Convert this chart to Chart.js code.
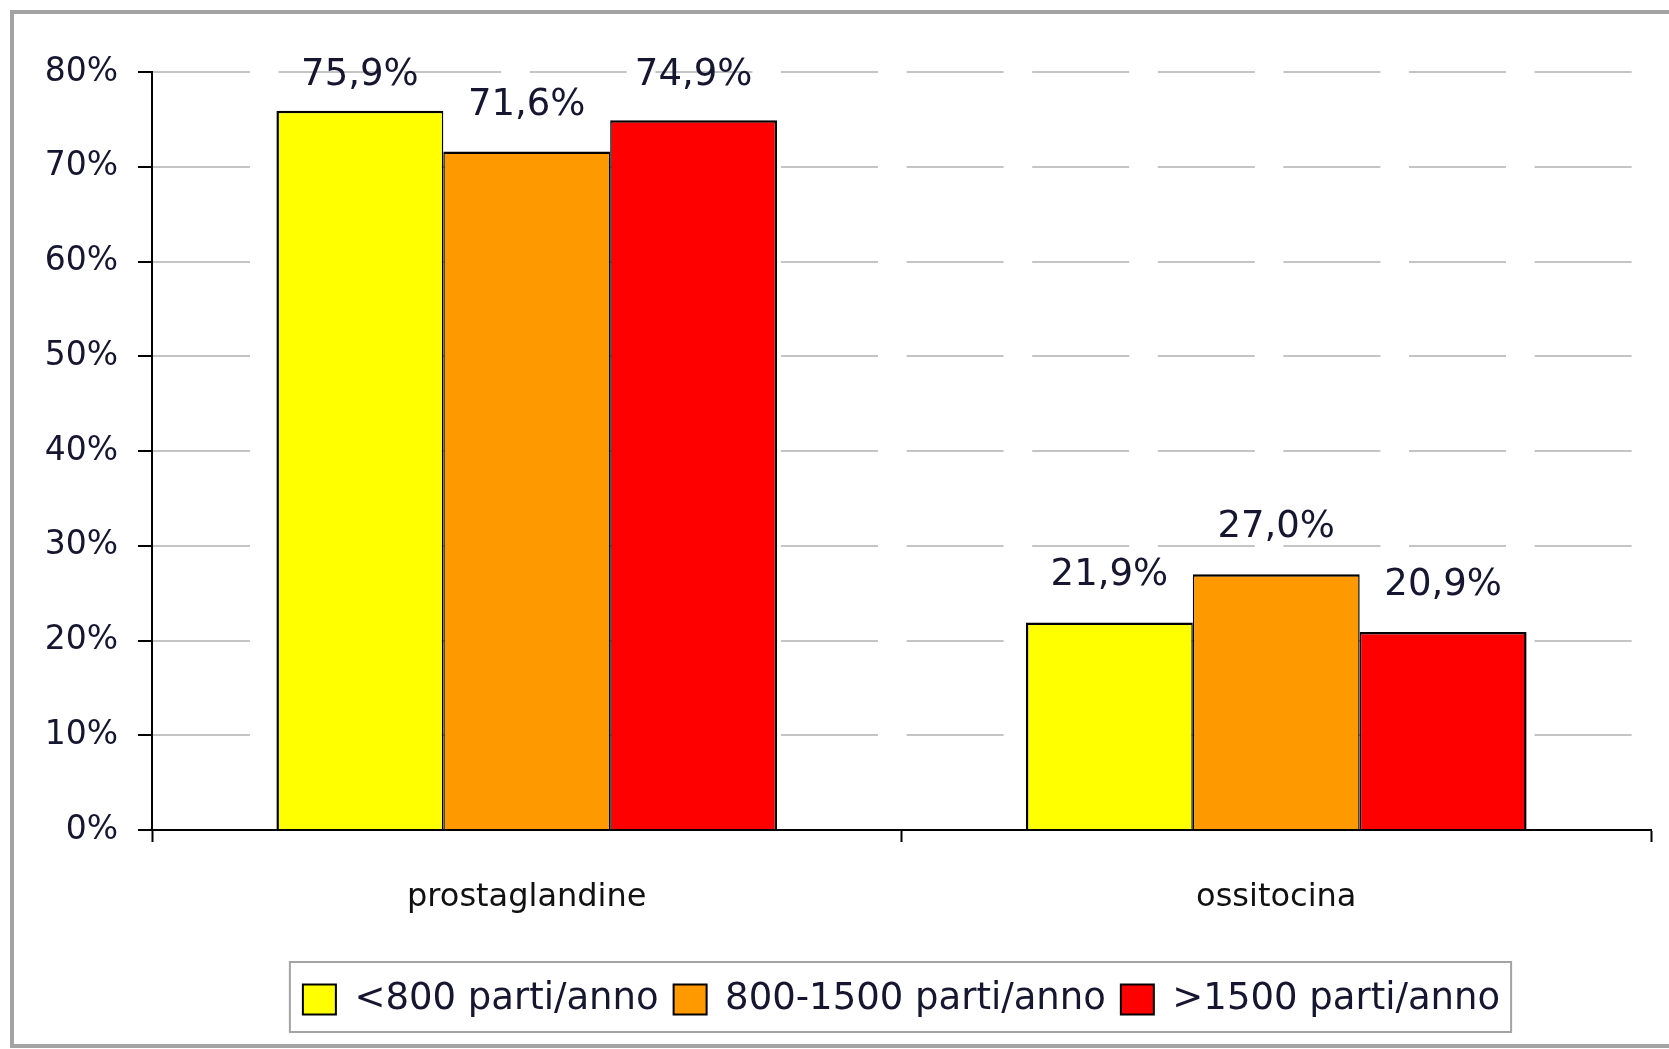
<!DOCTYPE html>
<html>
<head>
<meta charset="utf-8">
<script src="https://cdn.jsdelivr.net/npm/chart.js@4.4.0/dist/chart.umd.min.js"></script>
<style>
html, body { margin: 0; padding: 0; background: #fff; overflow: hidden; }
#wrap { position: relative; width: 1669px; height: 1049px; }
#frame { position: absolute; left: 10px; top: 10px; width: 1700px; height: 1038px; border: 4px solid #a3a3a3; box-sizing: border-box; }
canvas { position: absolute; left: 0; top: 0; }
</style>
</head>
<body>
<div id="wrap">
  <div id="frame"></div>
  <canvas id="chart" width="1669" height="1049"></canvas>
</div>
<script>
// data
const categories = ['prostaglandine', 'ossitocina'];
const seriesNames = ['<800 parti/anno', '800-1500 parti/anno', '>1500 parti/anno'];
const small = [75.9, 21.9];
const medium = [71.6, 27.0];
const large = [74.9, 20.9];
const yMax = 80;
const yStep = 10;

const textColor = '#161630';
const font = 'DejaVu Sans';

// value labels above bars
const valueLabels = {
    id: 'valueLabels',
    afterDatasetsDraw(chart) {
        const ctx = chart.ctx;
        ctx.save();
        ctx.font = '37px "' + font + '"';
        ctx.fillStyle = textColor;
        ctx.textAlign = 'center';
        ctx.textBaseline = 'alphabetic';
        chart.data.datasets.forEach((ds, i) => {
            chart.getDatasetMeta(i).data.forEach((bar, j) => {
                const txt = ds.data[j].toFixed(1).replace('.', ',') + '%';
                const y = Math.max(bar.y - 37, chart.chartArea.top + 13);
                ctx.fillText(txt, bar.x, y);
            });
        });
        ctx.restore();
    }
};

// grey box round the legend
const legendFrame = {
    id: 'legendFrame',
    afterDraw(chart) {
        const boxes = chart.legend.legendHitBoxes;
        if (!boxes || !boxes.length) return;
        const left = Math.min(...boxes.map(b => b.left)) - 13;
        const right = Math.max(...boxes.map(b => b.left + b.width)) + 11;
        const top = boxes[0].top - 19;
        const bottom = boxes[0].top + boxes[0].height + 14;
        const ctx = chart.ctx;
        ctx.save();
        ctx.strokeStyle = '#a3a3a3';
        ctx.lineWidth = 2;
        ctx.strokeRect(left, top, right - left, bottom - top);
        ctx.restore();
    }
};

function bars(label, data, color, bw) {
    return {
        label: label,
        data: data,
        backgroundColor: color,
        borderColor: '#000',
        borderWidth: bw,
        borderSkipped: false
    };
}

new Chart(document.getElementById('chart'), {
    type: 'bar',
    data: {
        labels: categories,
        datasets: [
            bars(seriesNames[0], small, '#ffff00', {left: 2.5, right: 1.5, top: 2.5, bottom: 0}),
            bars(seriesNames[1], medium, '#ff9900', {left: 1.5, right: 1.5, top: 2.5, bottom: 0}),
            bars(seriesNames[2], large, '#ff0000', {left: 1.5, right: 2.5, top: 2.5, bottom: 0})
        ]
    },
    options: {
        responsive: false,
        animation: false,
        devicePixelRatio: 1,
        categoryPercentage: 0.668,
        barPercentage: 1,
        layout: { padding: { top: 72, right: 18, bottom: 21, left: 0 } },
        plugins: {
            tooltip: { enabled: false },
            legend: {
                position: 'bottom',
                fullSize: false,
                labels: {
                    font: { family: font, size: 37 },
                    color: textColor,
                    boxWidth: 33,
                    boxHeight: 30,
                    padding: 15,
                    generateLabels(chart) {
                        const items = Chart.defaults.plugins.legend.labels.generateLabels(chart);
                        items.forEach(it => { it.lineWidth = 2; it.strokeStyle = '#000'; });
                        return items;
                    }
                }
            }
        },
        scales: {
            x: {
                afterFit(scale) { scale.height = 136; },
                grid: {
                    offset: true,
                    drawOnChartArea: false,
                    tickLength: 12,
                    tickColor: '#000',
                    tickWidth: 2
                },
                border: { color: '#000', width: 2 },
                ticks: {
                    font: { family: font, size: 32 },
                    color: '#111',
                    padding: 36
                }
            },
            y: {
                min: 0,
                max: yMax,
                afterFit(scale) { scale.width = 152; },
                grid: {
                    color: '#c4c4c4',
                    lineWidth: 2,
                    tickLength: 14,
                    tickColor: '#000',
                    tickWidth: 2,
                    tickBorderDash: []
                },
                border: { color: '#000', width: 2, dash: [97, 28.6] },
                ticks: {
                    stepSize: yStep,
                    font: { family: font, size: 33 },
                    color: textColor,
                    padding: 20,
                    callback: v => v + '%'
                }
            }
        }
    },
    plugins: [valueLabels, legendFrame]
});
</script>
</body>
</html>
